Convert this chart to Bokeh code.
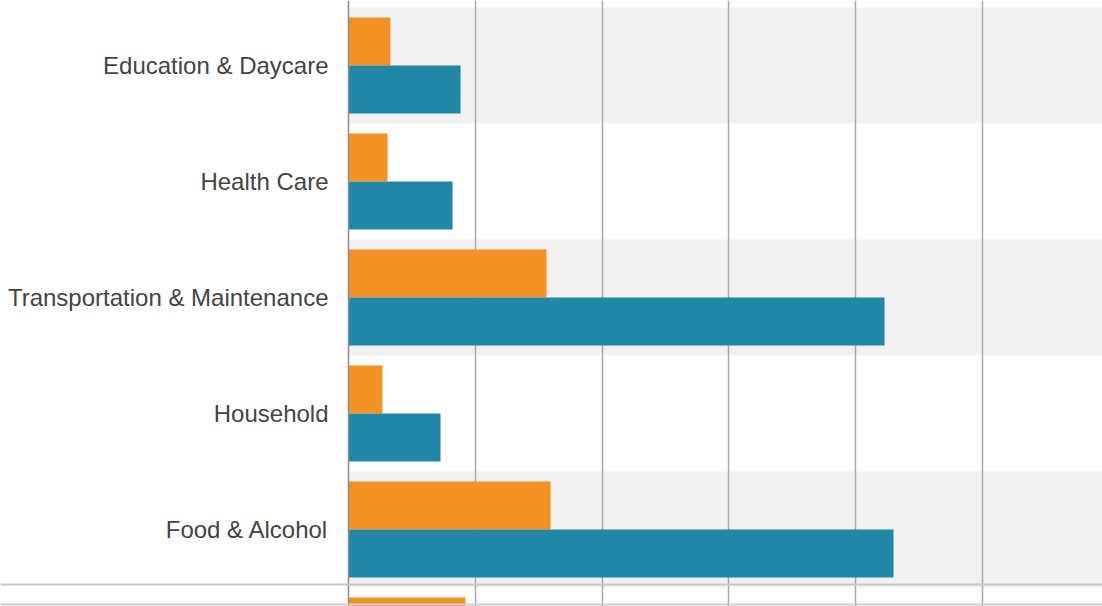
from bokeh.plotting import figure
from bokeh.models import Range1d, FixedTicker, BoxAnnotation, ColumnDataSource, Grid, Span
from bokeh.core.properties import value
from bokeh.embed import file_html
from bokeh.resources import INLINE

# ---- data ----
categories = ["Education & Daycare", "Health Care", "Transportation & Maintenance",
              "Household", "Food & Alcohol", "Housing"]
orange_values = [330, 308, 1562, 268, 1594, 923]
teal_values = [884, 821, 4229, 726, 4300, 2900]
grid_ticks = [1000, 2000, 3000, 4000, 5000]

ORANGE = "#F39122"
TEAL = "#2187A6"
BAND = "#F1F1F1"

W, H = 1102, 606
AXIS_X = 348
px_per_unit = 126.75 / 1000.0
x_start = -AXIS_X / px_per_unit
x_end = (W - AXIS_X) / px_per_unit

band_px = 116.0
top_center = 65.0  # canvas y of first category centre
y_top = (0 - top_center) / band_px
y_bottom = (H - top_center) / band_px

p = figure(width=W, height=H, output_backend="svg", toolbar_location=None,
           x_range=Range1d(x_start, x_end), y_range=Range1d(y_bottom, y_top),
           x_axis_location=None, y_axis_location=None,
           min_border_left=0, min_border_right=0, min_border_top=0, min_border_bottom=0)
p.outline_line_color = None
p.background_fill_color = "white"
p.border_fill_color = "white"
p.grid.visible = False

idx = list(range(len(categories)))
pad = 10.0 / band_px
half = 0.5 - pad

# alternating bands (plot area only)
band_idx = [i for i in idx if i % 2 == 0]
p.hbar(y=band_idx, height=1.0, left=0, right=x_end * 2,
       fill_color=BAND, line_color=None, level="image")

# vertical gridlines
p.add_layout(Grid(dimension=0, ticker=FixedTicker(ticks=grid_ticks),
                  grid_line_color="#AAAAAA", grid_line_width=1.5))

src = ColumnDataSource(dict(
    y_o=[i - half / 2 for i in idx],
    y_t=[i + half / 2 for i in idx],
    o=orange_values, t=teal_values))
p.hbar(y="y_o", height=half, left=0, right="o", source=src,
       fill_color=ORANGE, line_color=None)
p.hbar(y="y_t", height=half, left=0, right="t", source=src,
       fill_color=TEAL, line_color=None)

# category labels (only those whose row centre is inside the visible area)
vis = [i for i in idx if i < y_bottom - 0.2]
lab_src = ColumnDataSource(dict(y=vis, name=[categories[i] for i in vis]))
p.text(x=0, y="y", text="name", source=lab_src, x_offset=-20,
       text_align="right", text_baseline="middle",
       text_font=value("Liberation Sans"), text_font_size="24px",
       text_color="#444444")

# category axis line
p.add_layout(Span(location=0, dimension="height", line_color="#8C8C8C", line_width=1.5))

# full-width horizontal rules
p.add_layout(BoxAnnotation(left=0, right=W, top=583, bottom=585,
                           left_units="canvas", right_units="canvas",
                           top_units="canvas", bottom_units="canvas",
                           fill_color="#C8C8C8", fill_alpha=1, line_color=None,
                           level="overlay"))
p.add_layout(BoxAnnotation(left=0, right=W, top=603, bottom=605,
                           left_units="canvas", right_units="canvas",
                           top_units="canvas", bottom_units="canvas",
                           fill_color="#D0D0D0", fill_alpha=1, line_color=None,
                           level="overlay"))

open("out.html", "w").write(file_html(p, INLINE))
